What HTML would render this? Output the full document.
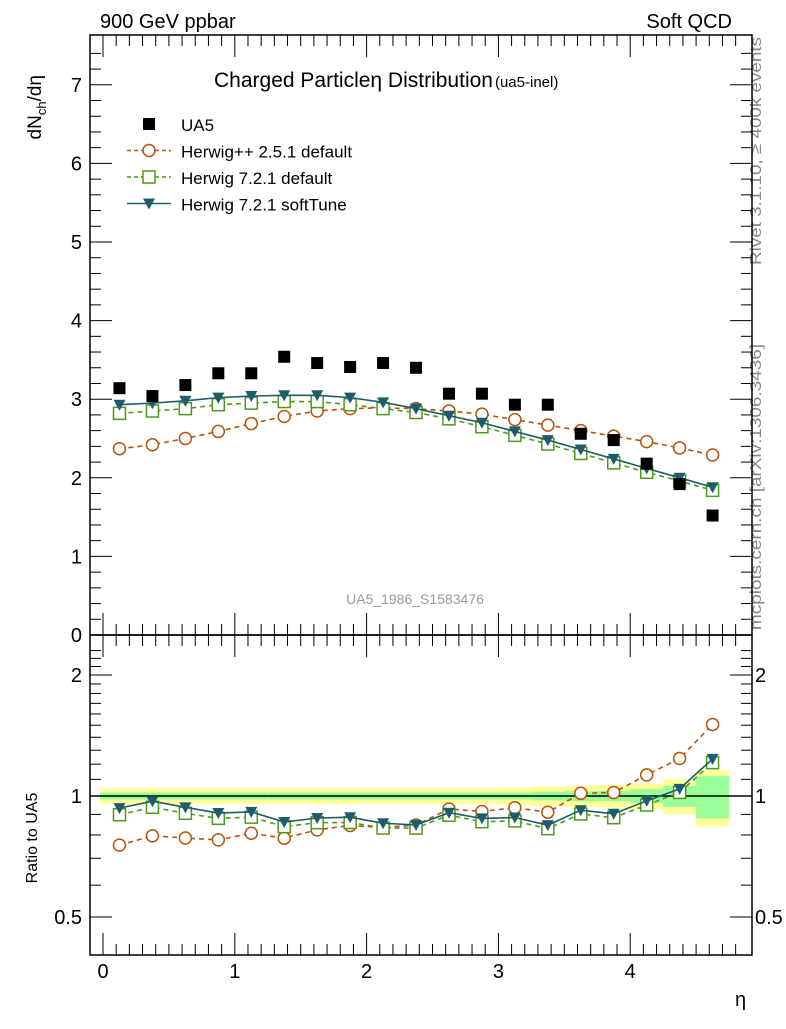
<!DOCTYPE html>
<html><head><meta charset="utf-8"><style>
body{margin:0;background:#fff;}
svg text{font-family:"Liberation Sans",sans-serif;}
</style></head><body>
<svg id="c" width="786" height="1024" xmlns="http://www.w3.org/2000/svg">
<text x="100" y="28" font-size="20">900 GeV ppbar</text>
<text x="732" y="28" font-size="20" text-anchor="end">Soft QCD</text>
<text x="214" y="87" font-size="21">Charged Particleη Distribution<tspan font-size="15" dx="2">(ua5-inel)</tspan></text>
<text transform="translate(41,75) rotate(-90)" font-size="19" text-anchor="end">dN<tspan font-size="13" dy="5">ch</tspan><tspan dy="-5">/dη</tspan></text>
<text transform="translate(37,838) rotate(-90)" font-size="16" text-anchor="middle">Ratio to UA5</text>
<text x="735" y="1006" font-size="20">η</text>
<text transform="translate(761,265) rotate(-90)" font-size="16" fill="#888" textLength="228" lengthAdjust="spacingAndGlyphs">Rivet 3.1.10, ≥ 400k events</text>
<text transform="translate(761,630) rotate(-90)" font-size="16" fill="#888" textLength="286" lengthAdjust="spacingAndGlyphs">mcplots.cern.ch [arXiv:1306.3436]</text>
<text x="415" y="604" font-size="14" fill="#999" text-anchor="middle">UA5_1986_S1583476</text>
<g id="bands"></g>
<g id="axes"></g>
<g id="marks"></g>
<g id="legend"></g>
</svg>
<script>
const etaCenters=[0.125,0.375,0.625,0.875,1.125,1.375,1.625,1.875,2.125,2.375,2.625,2.875,3.125,3.375,3.625,3.875,4.125,4.375,4.625];
const ua5=[3.14,3.04,3.18,3.33,3.33,3.54,3.46,3.41,3.46,3.40,3.07,3.07,2.93,2.93,2.56,2.48,2.18,1.92,1.52];
const herwigPP=[2.37,2.42,2.50,2.59,2.69,2.78,2.85,2.88,2.89,2.88,2.85,2.81,2.74,2.67,2.60,2.53,2.46,2.38,2.29];
const herwig721=[2.82,2.85,2.88,2.93,2.95,2.97,2.97,2.93,2.88,2.83,2.75,2.65,2.54,2.43,2.31,2.19,2.07,1.96,1.84];
const softTune=[2.93,2.95,2.98,3.02,3.04,3.05,3.05,3.02,2.96,2.88,2.79,2.70,2.59,2.48,2.36,2.24,2.12,2.00,1.88];
const statErr=[0.02,0.02,0.02,0.02,0.02,0.02,0.02,0.02,0.02,0.02,0.02,0.02,0.02,0.025,0.03,0.03,0.04,0.06,0.12];
const totErr=[0.045,0.045,0.045,0.045,0.045,0.045,0.045,0.045,0.045,0.045,0.045,0.045,0.05,0.055,0.06,0.065,0.075,0.10,0.16];
const mainTicks=[0,1,2,3,4,5,6,7];
const ratioTicks=[0.5,1,2];
const xTicks=[0,1,2,3,4];
const NS="http://www.w3.org/2000/svg";
const L=90,R=752,T1=35,B1=635,B2=955;
const X=v=>103+v*131.8;
const Y=v=>635-v*78.6;
const YR=r=>796-121*Math.log2(r);
function mk(tag,attrs,parent){const e=document.createElementNS(NS,tag);for(const k in attrs)e.setAttribute(k,attrs[k]);document.getElementById(parent).appendChild(e);return e;}
etaCenters.forEach((c,i)=>{
 let e=mk('rect',{x:X(c-0.125)-(i==0?3:0),y:YR(1+totErr[i]),width:X(0.25)-X(0)+(i==0?3:0),height:YR(1-totErr[i])-YR(1+totErr[i]),fill:'#ffff99'},'bands');
 
 
 let g=mk('rect',{x:X(c-0.125)-(i==0?3:0),y:YR(1+statErr[i]),width:X(0.25)-X(0)+(i==0?3:0),height:YR(1-statErr[i])-YR(1+statErr[i]),fill:'#99ff99'},'bands');
 
 
});
mk('line',{x1:L,x2:R,y1:YR(1),y2:YR(1),stroke:'#000','stroke-width':1.5},'axes');
let f1=mk('rect',{x:L,y:T1,width:R-L,height:B1-T1,fill:'none',stroke:'#000','stroke-width':1.5},'axes');


let f2=mk('rect',{x:L,y:B1,width:R-L,height:B2-B1,fill:'none',stroke:'#000','stroke-width':1.5},'axes');


for(let v=0;v<=7.6;v+=0.2){const y=Y(v);if(y<T1)break;const major=Math.abs(v-Math.round(v))<1e-6;const len=major?22:11;
 mk('line',{x1:L,x2:L+len,y1:y,y2:y,stroke:'#000'},'axes');mk('line',{x1:R,x2:R-len,y1:y,y2:y,stroke:'#000'},'axes');}
mainTicks.forEach(v=>{const t=mk('text',{x:82,y:Y(v)+7,'font-size':20,'text-anchor':'end'},'axes');t.textContent=v;
 
 });
for(let r=0.4;r<=2.4;r+=0.1){const y=YR(r);if(y<B1||y>B2)continue;const major=ratioTicks.some(t=>Math.abs(t-r)<1e-6);const len=major?22:11;
 mk('line',{x1:L,x2:L+len,y1:y,y2:y,stroke:'#000'},'axes');mk('line',{x1:R,x2:R-len,y1:y,y2:y,stroke:'#000'},'axes');}
ratioTicks.forEach(r=>{const t=mk('text',{x:82,y:YR(r)+7,'font-size':20,'text-anchor':'end'},'axes');t.textContent=r;
 
 
 const t2=mk('text',{x:755,y:YR(r)+7,'font-size':20},'axes');t2.textContent=r;
 
 });
for(let v=0;v<=4.8;v+=0.1){const x=X(v);if(x>R)break;const major=Math.abs(v-Math.round(v))<1e-6;const len=major?22:11;
 [[B1,-1],[B2,-1],[T1,1],[B1,1]].forEach(([b,d])=>mk('line',{x1:x,x2:x,y1:b,y2:b+d*len,stroke:'#000'},'axes'));}
xTicks.forEach(v=>{const t=mk('text',{x:X(v),y:978,'font-size':20,'text-anchor':'middle'},'axes');t.textContent=v;
 
 });
const series=[
 {name:'herwigpp-251',vals:herwigPP,color:'#b5540c',dash:'5,4',m:'circle'},
 {name:'herwig-721-default',vals:herwig721,color:'#4c9a1a',dash:'5,4',m:'square'},
 {name:'herwig-721-softtune',vals:softTune,color:'#1e5b6b',dash:'',m:'tri'}];
function marker(m,x,y,color,parent,name){let e;
 if(m=='circle')e=mk('circle',{cx:x,cy:y,r:6,fill:'#fff',stroke:color,'stroke-width':1.5},parent);
 else if(m=='square')e=mk('rect',{x:x-6,y:y-6,width:12,height:12,fill:'#fff',stroke:color,'stroke-width':1.5},parent);
 else if(m=='tri')e=mk('path',{d:`M${x-6},${y-5}L${x+6},${y-5}L${x},${y+6}Z`,fill:color},parent);
 else e=mk('rect',{x:x-6,y:y-6,width:12,height:12,fill:'#000'},parent);
 
 }
series.forEach(s=>{
 const p1=mk('polyline',{points:etaCenters.map((c,i)=>X(c)+','+Y(s.vals[i])).join(' '),fill:'none',stroke:s.color,'stroke-width':1.6,'stroke-dasharray':s.dash},'marks');
 
 
 const p2=mk('polyline',{points:etaCenters.map((c,i)=>X(c)+','+YR(s.vals[i]/ua5[i])).join(' '),fill:'none',stroke:s.color,'stroke-width':1.6,'stroke-dasharray':s.dash},'marks');
 
 
 etaCenters.forEach((c,i)=>{marker(s.m,X(c),Y(s.vals[i]),s.color,'marks',s.name+'-point');
  marker(s.m,X(c),YR(s.vals[i]/ua5[i]),s.color,'marks',s.name+'-ratio-point');});
});
etaCenters.forEach((c,i)=>marker('data',X(c),Y(ua5[i]),'#000','marks','ua5-point'));
const leg=[['UA5','data','#000',''],['Herwig++ 2.5.1 default','circle','#b5540c','5,4'],['Herwig 7.2.1 default','square','#4c9a1a','5,4'],['Herwig 7.2.1 softTune','tri','#1e5b6b','']];
leg.forEach((l,i)=>{const y=124+i*26.5;
 if(i>0)mk('line',{x1:127,x2:171,y1:y,y2:y,stroke:l[2],'stroke-width':1.5,'stroke-dasharray':l[3]?'4,3':''},'legend');
 marker(l[1],149,y,l[2],'legend','legend-marker');
 const t=mk('text',{x:181,y:y+7,'font-size':17},'legend');t.textContent=l[0];
 
 });
</script>
</body></html>
